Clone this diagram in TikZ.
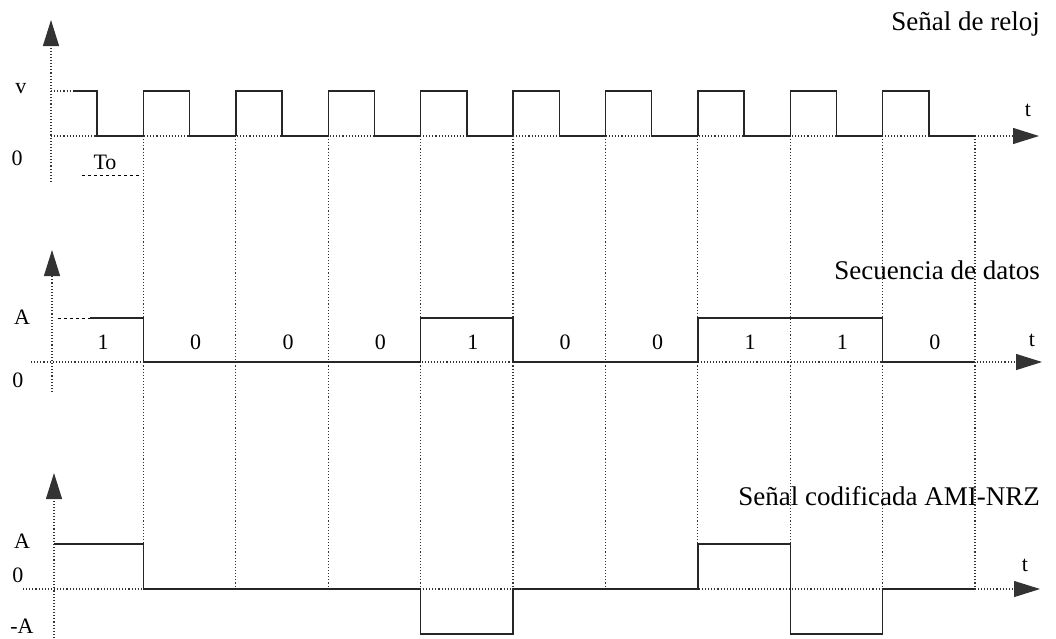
\documentclass[tikz,border=0pt]{standalone}
\usepackage{fontspec}
\setmainfont{Liberation Serif}
\usetikzlibrary{arrows.meta}
\begin{document}
\begin{tikzpicture}[x=1pt,y=-1pt,
  wave/.style={line width=1.4pt, black!85},
  gridline/.style={dotted, line width=1.1pt, black!80},
  axisline/.style={gridline, -{Triangle[length=26pt,width=16pt]}},
  title/.style={font=\fontsize{27}{30}\selectfont, anchor=base east, inner sep=0pt},
  lbl/.style={font=\fontsize{22}{24}\selectfont, inner sep=0pt},
]
\useasboundingbox (0,0) rectangle (1056,638);

% vertical dotted grid lines at bit boundaries
\foreach \k in {1,...,10} {
  \pgfmathsetmacro\xg{51+\k*92.4}
  \draw[gridline] (\xg,136) -- (\xg,589);
}

% ---------------- clock ----------------
\draw[axisline] (51,182) -- (51,20);
\draw[axisline] (51,136) -- (1039,136);
\draw[gridline] (51,91) -- (73,91);
\draw[wave] (73,91) -- (97,91) -- (97,136) -- (143.4,136);
\foreach \k in {1,...,9} {
  \pgfmathsetmacro\xa{51+\k*92.4}
  \pgfmathsetmacro\xb{\xa+46.2}
  \pgfmathsetmacro\xc{\xa+92.4}
  \draw[wave] (\xa,136) -- (\xa,91) -- (\xb,91) -- (\xb,136) -- (\xc,136);
}
\draw[dashed, line width=1pt] (82,175) -- (139,175);
\node[lbl] (lv) at (21,89) {v};
\node[lbl] (lzero1) at (17,158) {0};
\node[lbl] (lto) at (105,162) {To};
\node[lbl] (lt1) at (1028,110) {t};
\node[title] (tit1) at (1040,30) {Señal de reloj};

% ---------------- data ----------------
\draw[axisline] (52,392) -- (52,250);
\draw[axisline] (31,362) -- (1042,362);
\draw[dashed, line width=1pt] (58,318) -- (90,318);
\draw[wave] (90,318) -- (143.4,318) -- (143.4,362) -- (420.6,362) -- (420.6,318)
  -- (513,318) -- (513,362) -- (697.8,362) -- (697.8,318) -- (882.6,318)
  -- (882.6,362) -- (975,362);
\node[lbl] (lA1) at (22,317) {A};
\node[lbl] (lzero2) at (18,380) {0};
\node[lbl] (lt2) at (1032,340) {t};
\node[title] (tit2) at (1040,279) {Secuencia de datos};
\foreach \b [count=\i from 0] in {1,0,0,0,1,0,0,1,1,0} {
  \node[lbl] (bit\i) at ({51+\i*92.4+46.2+6},342) {\b};
}

% ---------------- AMI-NRZ ----------------
\draw[axisline] (54,638) -- (54,473);
\draw[axisline] (23,589) -- (1040,589);
\draw[wave] (54,544) -- (143.4,544) -- (143.4,589) -- (420.6,589) -- (420.6,634)
  -- (513,634) -- (513,589) -- (697.8,589) -- (697.8,544) -- (790.2,544)
  -- (790.2,634) -- (882.6,634) -- (882.6,589) -- (975,589);
\node[lbl] (lA2) at (22,541) {A};
\node[lbl] (lzero3) at (18,575) {0};
\node[lbl] (lmA) at (22,626) {-A};
\node[lbl] (lt3) at (1025,565) {t};
\node[title] (tit3) at (1040,505) {Señal codificada AMI-NRZ};
\end{tikzpicture}
\end{document}
